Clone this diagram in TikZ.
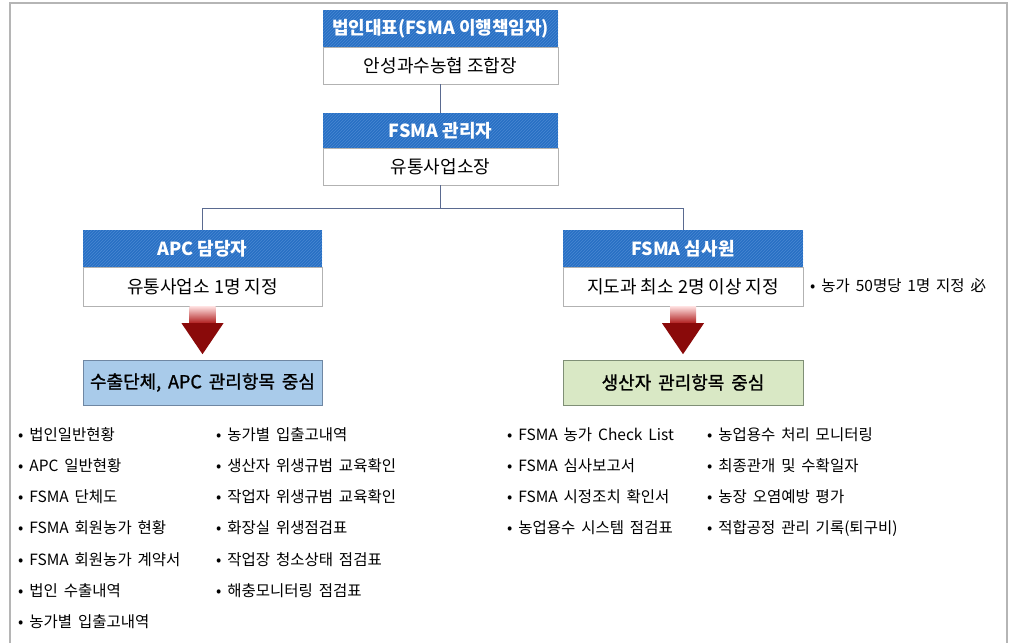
\documentclass[tikz,border=0pt]{standalone}
\usepackage{fontspec}
\setmainfont{Noto Sans CJK KR}
\newfontfamily\widefont{Noto Sans CJK KR}[WordSpace=1.7]
\newfontfamily\focusfont{Noto Sans CJK KR}[WordSpace=1.7,FakeBold=1.2]
\usetikzlibrary{patterns}
\definecolor{hdrblue}{HTML}{2870C4}
\definecolor{hdrline}{HTML}{4A88D2}
\definecolor{lblue}{HTML}{A9CBEA}
\definecolor{lblueline}{HTML}{6F87A3}
\definecolor{lgreen}{HTML}{D9E8C5}
\definecolor{lgreenline}{HTML}{7F8F76}
\definecolor{darkred}{HTML}{8A0A0A}
\definecolor{shaftred}{HTML}{B01E1E}
\definecolor{framegray}{HTML}{B5B5B5}
\definecolor{conn}{HTML}{5A6A90}
\tikzset{
  hdr/.style={fill=hdrblue, postaction={pattern=north east lines, pattern color=hdrline},
    text=white, font=\bfseries\fontsize{18}{21}\selectfont, inner sep=0pt, minimum height=37pt},
  bodybox/.style={draw=gray!60, fill=white, font=\fontsize{18}{21}\selectfont, inner sep=0pt, minimum height=38pt},
  focusblue/.style={draw=lblueline, fill=lblue, font=\focusfont\fontsize{18}{21}\selectfont, inner sep=0pt, minimum height=45pt},
  focusgreen/.style={draw=lgreenline, fill=lgreen, font=\focusfont\fontsize{18}{21}\selectfont, inner sep=0pt, minimum height=45pt},
  item/.style={anchor=base west, inner sep=0pt, font=\widefont\fontsize{15.5}{18}\selectfont},
  link/.style={draw=conn, line width=0.9pt}
}
\begin{document}
\begin{tikzpicture}[x=1pt,y=-1pt]
\useasboundingbox (0,0) rectangle (1009,643);
\draw[framegray, line width=2pt] (9.5,643) -- (9.5,3) -- (1007,3) -- (1007,643);

% top boxes
\node[hdr, minimum width=235pt] (presh) at (440.5,28.5) {법인대표(FSMA 이행책임자)};
\node[bodybox, minimum width=235pt, minimum height=37pt] (presb) at (440.5,65.5) {안성과수농협 조합장};
\node[hdr, minimum width=235pt, minimum height=35pt] (mgrh) at (440.5,130.5) {FSMA 관리자};
\node[bodybox, minimum width=235pt, minimum height=37pt] (mgrb) at (440.5,166.5) {유통사업소장};

\node[hdr, minimum width=239pt] (apch) at (202.5,248.5) {APC 담당자};
\node[bodybox, minimum width=239pt, minimum height=39pt] (apcb) at (202.5,286.5) {유통사업소 1명 지정};
\node[hdr, minimum width=240pt] (audh) at (683,248.5) {FSMA 심사원};
\node[bodybox, minimum width=240pt, minimum height=39pt] (audb) at (683,286.5) {지도과 최소 2명 이상 지정};

\node[item] (note) at (810,291) {• 농가 50명당 1명 지정 必};

% connectors
\coordinate (junc) at (440.5,208);
\draw[link] (presb.south) -- (mgrh.north);
\draw[link] (mgrb.south) -- (junc);
\draw[link] (junc) -| (apch.north);
\draw[link] (junc) -| (audh.north);

% arrows
\foreach \b in {apcb,audb}{
  \begin{scope}[shift={(\b.south)}]
    \shade[top color=red!12, bottom color=shaftred] (-13,0) rectangle (13,17);
    \fill[darkred] (-21,17) -- (21,17) -- (0,48) -- cycle;
  \end{scope}
}

\node[focusblue, minimum width=239pt] (apcf) at (202.5,382.5) {수출단체, APC 관리항목 중심};
\node[focusgreen, minimum width=240pt] (audf) at (683,382.5) {생산자 관리항목 중심};

% lists
\foreach \t [count=\i] in {법인일반현황, APC 일반현황, FSMA 단체도, FSMA 회원농가 현황, FSMA 회원농가 계약서, 법인 수출내역, 농가별 입출고내역}
  \node[item] (la\i) at (18,{440+(\i-1)*31.3}) {• \t};
\foreach \t [count=\i] in {농가별 입출고내역, 생산자 위생규범 교육확인, 작업자 위생규범 교육확인, 화장실 위생점검표, 작업장 청소상태 점검표, 해충모니터링 점검표}
  \node[item] (lb\i) at (216,{440+(\i-1)*31.3}) {• \t};
\foreach \t [count=\i] in {FSMA 농가 Check List, FSMA 심사보고서, FSMA 시정조치 확인서, 농업용수 시스템 점검표}
  \node[item] (ra\i) at (507,{440+(\i-1)*31.3}) {• \t};
\foreach \t [count=\i] in {농업용수 처리 모니터링, 최종관개 및 수확일자, 농장 오염예방 평가, 적합공정 관리 기록(퇴구비)}
  \node[item] (rb\i) at (707,{440+(\i-1)*31.3}) {• \t};
\end{tikzpicture}
\end{document}
